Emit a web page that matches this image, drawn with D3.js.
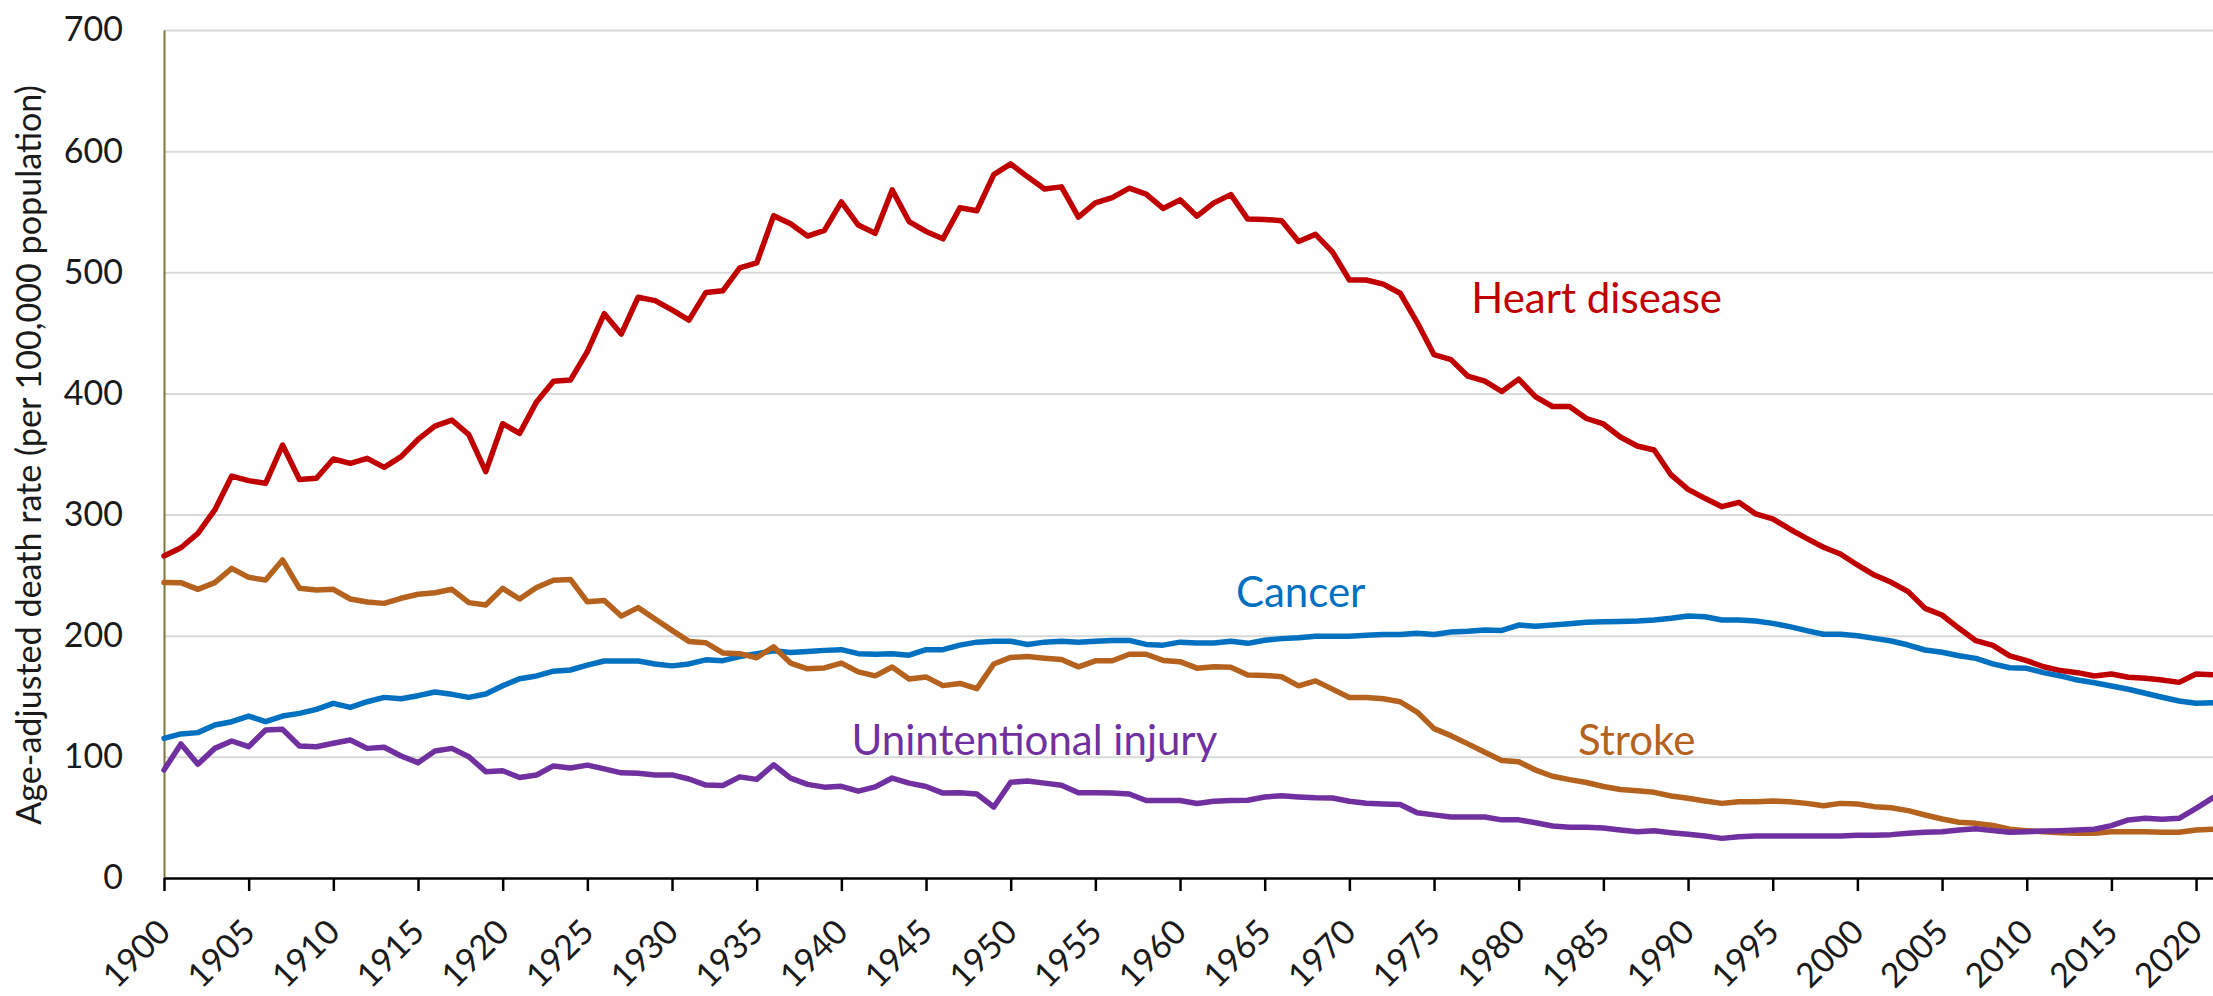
<!DOCTYPE html>
<html>
<head>
<meta charset="utf-8">
<script src="https://cdn.jsdelivr.net/npm/d3@7"></script>
<style>
  body { margin: 0; background: #fff; }
  .container svg { display: block; font-family: Lato, "Open Sans", sans-serif; }
  .series { fill: none; stroke-width: 5.5px; stroke-linejoin: round; stroke-linecap: round; }
</style>
</head>
<body>
<div class="container"></div>
<script>
var startYear = 1900;
var endYear = 2021;

var heartDisease = [
  265.8, 272.6, 284.5, 303.8, 331.8, 328, 325.8, 357.4, 329, 330,
  345.9, 342.3, 346.4, 339, 347.8, 362, 373, 378, 366, 335.4,
  375, 367, 393, 410, 411, 434.5, 465.8, 449, 479.4, 476.6,
  468.9, 460.5, 483.4, 484.7, 503.6, 507.7, 546.7, 540, 529.9, 534.6,
  558.2, 539, 532.2, 568, 541.9, 533.7, 527.6, 553.3, 550.8, 580.6,
  589.5, 578.8, 568.8, 570.5, 545.5, 557.3, 561.6, 569.4, 564.5, 552.7,
  559.8, 546.3, 557.3, 564.1, 543.9, 543.6, 542.6, 525.4, 531.3, 516.9,
  493.6, 493.6, 490.2, 482.7, 458.7, 432, 427.9, 414.2, 410.1, 401.6,
  411.8, 397.1, 389.2, 389.2, 379.3, 374.8, 364, 356.6, 353.3, 332.7,
  320.8, 313.4, 306.5, 310.1, 300.5, 296.4, 288.1, 280.4, 273, 267.5,
  258.4, 250.1, 244.1, 236.4, 222.6, 217.1, 206.1, 195.9, 192, 183.3,
  179.4, 174.4, 171.2, 169.5, 166.8, 168.4, 165.7, 164.8, 163.4, 161.5,
  168.4, 167.8
];

var cancer = [
  115.3, 118.9, 120, 126.3, 129, 133.7, 129, 133.7, 135.9, 139.2,
  144.2, 140.9, 145.5, 149.1, 148, 150.5, 153.5, 151.6, 149.1, 151.9,
  158.7, 164.5, 166.8, 170.7, 171.7, 175.7, 179.1, 179.1, 179.1, 176.7,
  175.1, 176.7, 180.1, 179.4, 182.8, 185.2, 187.5, 186.2, 186.9, 187.9,
  188.5, 185.2, 184.6, 185.1, 183.9, 188.5, 188.5, 192.2, 194.7, 195.4,
  195.4, 192.8, 194.7, 195.4, 194.7, 195.4, 196.1, 196.1, 192.8, 192.2,
  194.7, 193.9, 193.9, 195.4, 193.7, 196.2, 197.6, 198.3, 199.6, 199.6,
  199.6, 200.3, 201, 201, 202, 201, 203.1, 203.7, 204.8, 204.4,
  208.8, 207.8, 208.8, 209.9, 211.2, 211.6, 211.8, 212.2, 213, 214.4,
  216.3, 215.7, 213, 213, 212.2, 210.2, 207.5, 204.2, 201.2, 201.2,
  200, 197.8, 195.6, 192.3, 188.2, 186.3, 183.5, 181.3, 176.8, 173.6,
  173.1, 169.5, 166.8, 163.4, 161.2, 158.5, 155.8, 152.5, 149.2, 146.1,
  144.2, 144.7
];

var stroke = [
  244, 243.8, 238.3, 243.8, 255.6, 248.2, 246, 262.5, 239.1, 237.7,
  238.3, 230.3, 227.8, 226.7, 230.9, 234.2, 235.5, 238.3, 227.3, 225.4,
  239.1, 230.3, 239.8, 245.8, 246.5, 228, 229, 216.2, 223.2, 213.8,
  204.4, 195.3, 194.2, 185.8, 185.2, 181.8, 190.9, 177.4, 172.7, 173.4,
  177.4, 170.1, 166.9, 174.2, 164.3, 166, 158.8, 160.6, 156.3, 176.7,
  182.1, 182.8, 181.4, 180.3, 174.3, 179.3, 179.3, 184.7, 184.7, 179.6,
  178.6, 173.2, 174.3, 173.9, 167.5, 167.2, 166.1, 158.6, 162.7, 155.9,
  149, 149, 147.9, 145.5, 137, 123.3, 117.5, 110.7, 103.8, 97,
  95.9, 89.1, 84, 81.2, 78.8, 75.5, 73, 72.1, 70.7, 67.7,
  65.8, 63.6, 61.6, 63, 63, 63.6, 63, 61.6, 59.7, 61.6,
  61.1, 58.9, 58, 55.6, 52, 48.7, 46, 45.1, 43.3, 40.2,
  39.1, 38.2, 37.4, 36.9, 36.9, 38.2, 38.2, 38.2, 37.7, 37.7,
  39.6, 40.2
];

var injury = [
  89.2, 110.6, 93.9, 107, 113.1, 108.4, 122.2, 122.7, 109, 108.4,
  111.2, 113.9, 107, 107.9, 100.7, 95.2, 104.8, 107, 100.1, 87.8,
  88.5, 83, 85, 92.5, 90.8, 93.2, 90.1, 86.8, 86.4, 85.1,
  85.1, 81.7, 76.7, 76.4, 83.5, 81.4, 93.5, 82.4, 77.3, 75,
  75.7, 71.7, 75.2, 82.5, 78.3, 75.5, 70.1, 70.4, 69.3, 58.6,
  79, 80.1, 78.3, 76.5, 70.4, 70.4, 70.1, 69.3, 64, 64,
  64, 61.5, 63.3, 64, 64.2, 66.9, 67.9, 66.9, 66.2, 66,
  63.4, 61.7, 61.1, 60.7, 53.8, 52.1, 50.4, 50.4, 50.4, 48,
  48, 45.6, 42.9, 41.9, 41.9, 41.2, 39.7, 38.2, 39, 37.4,
  36.1, 34.7, 32.7, 34.1, 34.7, 34.7, 34.7, 34.7, 34.7, 34.7,
  35.2, 35.2, 35.8, 36.9, 37.7, 38.2, 39.6, 40.7, 39.1, 37.7,
  38.2, 38.8, 39.1, 39.6, 40.2, 43.2, 47.9, 49.3, 48.4, 49.3,
  57.5, 66.3
];

var yTicks = [0, 100, 200, 300, 400, 500, 600, 700];
var xTicks = d3.range(1900, 2021, 5);
var yTitle = "Age-adjusted death rate (per 100,000 population)";

const WIDTH = 2213;
const HEIGHT = 996;
const LEFT = 164;
const TOP = 30;
const BOTTOM = 878;
const RIGHT = 2213;

var years = d3.range(startYear, endYear + 1);

// label anchors are given in chart units (year, rate)
var series = [
  { name: "Heart disease", values: heartDisease, color: "#C00000", labelAt: [1977.2, 466.5] },
  { name: "Cancer", values: cancer, color: "#0070C0", labelAt: [1963.3, 224] },
  { name: "Stroke", values: stroke, color: "#B5621E", labelAt: [1983.5, 101.5] },
  { name: "Unintentional injury", values: injury, color: "#7030A0", labelAt: [1940.6, 101.5] }
];

var translate = function (x, y) {
  return "translate(" + x + "," + y + ")";
};

var display = function () {
  var svg = d3.select('.container').append('svg')
    .attr('width', WIDTH)
    .attr('height', HEIGHT);

  var xScale = d3.scaleLinear()
    .domain([startYear, endYear])
    .range([LEFT, RIGHT]);

  var yScale = d3.scaleLinear()
    .domain([0, 700])
    .range([BOTTOM, TOP]);

  // gridlines
  var grid = svg.append('g')
    .attr('transform', translate(LEFT, 0))
    .call(d3.axisLeft(yScale).tickValues(yTicks.slice(1)).tickSize(-(RIGHT - LEFT)).tickFormat(''));
  grid.select('.domain').remove();
  grid.selectAll('line').attr('stroke', '#d9d9d9').attr('stroke-width', 2);

  // y axis
  var yAxis = svg.append('g')
    .attr('transform', translate(LEFT, 0))
    .call(d3.axisLeft(yScale).tickValues(yTicks).tickSize(0).tickSizeOuter(0).tickPadding(41));
  yAxis.select('.domain').attr('stroke', '#7a7a3a').attr('stroke-width', 2);
  yAxis.selectAll('text')
    .attr('font-size', 34)
    .attr('font-family', 'Lato, sans-serif')
    .attr('fill', '#1a1a1a');

  // x axis
  var xAxis = svg.append('g')
    .attr('transform', translate(0, BOTTOM))
    .call(d3.axisBottom(xScale).tickValues(xTicks).tickSize(13).tickSizeOuter(0).tickFormat(d3.format('d')));
  xAxis.select('.domain').attr('stroke', '#000').attr('stroke-width', 2.5);
  xAxis.selectAll('.tick line').attr('stroke', '#000').attr('stroke-width', 2.5);
  xAxis.selectAll('text')
    .attr('x', 0)
    .attr('y', 0)
    .attr('dy', 0)
    .attr('transform', translate(8, 56) + ' rotate(-45)')
    .attr('text-anchor', 'end')
    .attr('font-size', 34)
    .attr('font-family', 'Lato, sans-serif')
    .attr('fill', '#1a1a1a');

  // y title, sized to span the same height as in the source
  var title = svg.append('text')
    .attr('transform', translate(41, 455) + ' rotate(-90)')
    .attr('text-anchor', 'middle')
    .attr('font-size', 33)
    .attr('fill', '#1a1a1a')
    .text(yTitle);
  var titleLen = title.node().getComputedTextLength();
  if (titleLen > 0) title.attr('font-size', 33 * 740 / titleLen);

  var line = d3.line()
    .x(function (d, i) { return xScale(years[i]); })
    .y(function (d) { return yScale(d); });

  var lines = svg.append('g');
  lines.selectAll('path')
    .data(series)
    .enter().append('path')
    .classed('series', true)
    .attr('stroke', function (s) { return s.color; })
    .attr('d', function (s) { return line(s.values); });

  svg.append('g').selectAll('text')
    .data(series)
    .enter().append('text')
    .attr('x', function (s) { return xScale(s.labelAt[0]); })
    .attr('y', function (s) { return yScale(s.labelAt[1]); })
    .attr('font-size', 42)
    .attr('fill', function (s) { return s.color; })
    .text(function (s) { return s.name; });
};

window.onload = function () {
  display();
};
</script>
</body>
</html>
